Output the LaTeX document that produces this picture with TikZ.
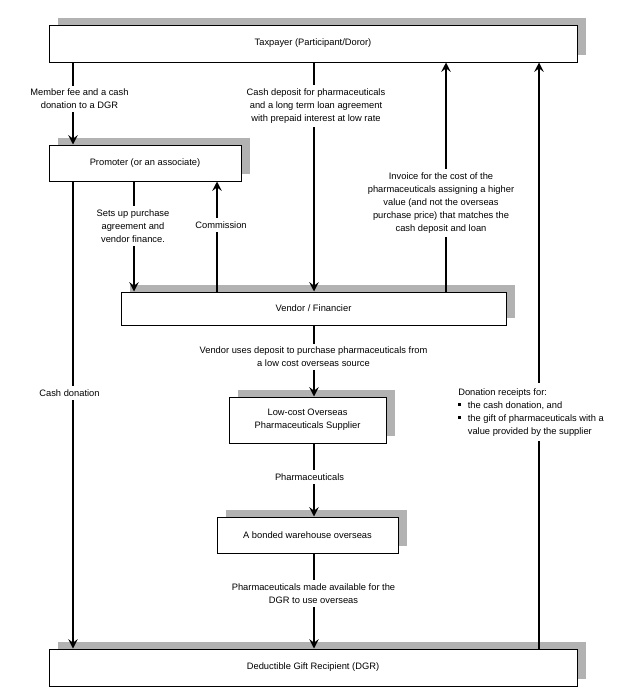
\documentclass[tikz,border=0pt]{standalone}
\usepackage{fontspec}
\setmainfont{Liberation Sans}
\usetikzlibrary{arrows.meta,shadows}
\newcommand\fsz{\fontsize{7}{9.75}\selectfont}
\begin{document}
\begin{tikzpicture}[x=0.75pt,y=-0.75pt,
  box/.style={draw, line width=0.75pt, fill=white, align=center, inner sep=0pt, font=\fsz,
    drop shadow={shadow xshift=6.4pt, shadow yshift=5.6pt, fill=black!30, opacity=1}},
  arr/.style={line width=1.5pt, -{Stealth[length=7pt,width=7pt,inset=2.6pt]}},
  lbl/.style={fill=white, inner xsep=1.5pt, inner ysep=2.5pt, align=center, font=\fsz}]
\useasboundingbox (0,0) rectangle (640,689);
% boxes
\node[box, minimum width={528*0.75pt}, minimum height={37*0.75pt}] (tax) at (313,43.5) {Taxpayer (Participant/Doror)};
\node[box, minimum width={192*0.75pt}, minimum height={36*0.75pt}] (prom) at (145,163) {Promoter (or an associate)};
\node[box, minimum width={385*0.75pt}, minimum height={33*0.75pt}] (vend) at (313.5,308.5) {Vendor / Financier};
\node[box, minimum width={157*0.75pt}, minimum height={46*0.75pt}] (supp) at (307.5,420) {Low-cost Overseas\\Pharmaceuticals Supplier};
\node[box, minimum width={181*0.75pt}, minimum height={36*0.75pt}] (ware) at (307.5,535) {A bonded warehouse overseas};
\node[box, minimum width={528*0.75pt}, minimum height={37*0.75pt}] (dgr) at (313,667.5) {Deductible Gift Recipient (DGR)};
% x positions of connectors
\coordinate (xa) at (73,0);
\coordinate (xb) at (314,0);
\coordinate (xc) at (446,0);
\coordinate (xd) at (539,0);
\coordinate (xe) at (134,0);
\coordinate (xf) at (217,0);
% connectors
\draw[arr] (tax.south -| xa) -- (prom.north -| xa);
\draw[arr] (tax.south -| xb) -- (vend.north -| xb);
\draw[arr] (vend.north -| xc) -- (tax.south -| xc);
\draw[arr] (dgr.north -| xd) -- (tax.south -| xd);
\draw[arr] (prom.south -| xe) -- (vend.north -| xe);
\draw[arr] (vend.north -| xf) -- (prom.south -| xf);
\draw[arr] (prom.south -| xa) -- (dgr.north -| xa);
\draw[arr] (vend.south -| xb) -- (supp.north -| xb);
\draw[arr] (supp.south -| xb) -- (ware.north -| xb);
\draw[arr] (ware.south -| xb) -- (dgr.north -| xb);
% labels
\node[lbl] (l1) at (79.5,99) {Member fee and a cash\\donation to a DGR};
\node[lbl] (l2) at (316,106) {Cash deposit for pharmaceuticals\\and a long term loan agreement\\with prepaid interest at low rate};
\node[lbl] (l3) at (441,203) {Invoice for the cost of the\\pharmaceuticals assigning a higher\\value (and not the overseas\\purchase price) that matches the\\cash deposit and loan};
\node[lbl, anchor=west, align=left] (l4) at (456,412) {\begin{tabular}{@{}l@{\hspace{5pt}}l@{}}
\multicolumn{2}{@{}l}{Donation receipts for:}\\
\rule[1.6pt]{2.2pt}{2.2pt} & the cash donation, and\\
\rule[1.6pt]{2.2pt}{2.2pt} & the gift of pharmaceuticals with a\\
 & value provided by the supplier
\end{tabular}};
\node[lbl] (l5) at (133,226) {Sets up purchase\\agreement and\\vendor finance.};
\node[lbl] (l6) at (221,225) {Commission};
\node[lbl] (l7) at (69.5,393) {Cash donation};
\node[lbl] (l8) at (313.5,357) {Vendor uses deposit to purchase pharmaceuticals from\\a low cost overseas source};
\node[lbl] (l9) at (309.5,477) {Pharmaceuticals};
\node[lbl] (l10) at (313.5,593.5) {Pharmaceuticals made available for the\\DGR to use overseas};
\end{tikzpicture}
\end{document}
